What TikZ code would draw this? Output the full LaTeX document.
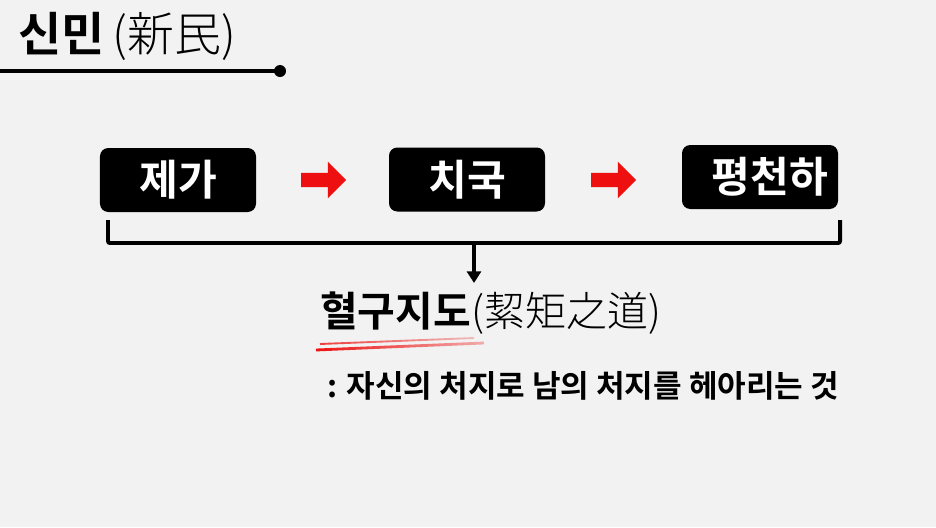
\documentclass[tikz,border=0pt]{standalone}
\usepackage{fontspec}
\usetikzlibrary{shapes.arrows,arrows.meta,fadings}
\newfontfamily\krb{Noto Sans CJK KR Bold}
\newfontfamily\krl{Noto Sans CJK KR Light}
\definecolor{bg}{RGB}{242,242,242}
\definecolor{arrowred}{RGB}{238,16,16}
\tikzfading[name=brushfade, left color=transparent!0, right color=transparent!70]
\tikzset{
  stagebox/.style={fill=black, text=white, rounded corners=0.25cm, minimum width=4.68cm, minimum height=1.92cm, font=\krb\fontsize{36}{40}\selectfont},
  redarrow/.style={single arrow, fill=arrowred, inner sep=0pt, inner ysep=0.21cm, minimum height=1.35cm, single arrow head extend=0.33cm}
}
\begin{document}
\begin{tikzpicture}[x=0.03cm, y=-0.03cm]
        % Background
        \fill[bg] (0,0) rectangle (936,527);
        \useasboundingbox (0,0) rectangle (936,527);

        % Title with rule
        \node[anchor=west, inner sep=0pt] (title) at (18,36) {{\krb\fontsize{40}{44}\selectfont 신민}\hspace{0.25cm}{\krl\fontsize{40}{44}\selectfont (新民)}};
        \coordinate (dot) at (280,71);
        \draw[line width=2.6pt] (0,71) -- (dot);
        \fill (dot) circle (0.18cm);

        % Stages
        \node[stagebox] (jega) at (178,180) {제가};
        \node[stagebox] (chiguk) at (467,179.5) {치국};
        \node[stagebox, inner xsep=0.3cm, text width=4.08cm, align=right] (pyeong) at (760,177) {평천하};
        \node[redarrow] (arr1) at (320,180) {};
        \node[redarrow] (arr2) at (610,180) {};

        % Bracket and down arrow
        \coordinate (bl) at (108,220);
        \coordinate (br) at (840,220);
        \draw[line width=3.4pt, rounded corners=1.7pt] (bl) -- (108,243) -- (840,243) -- (br);
        \node[anchor=west, inner sep=0pt] (hyeolgu) at (320,313) {{\krb\fontsize{35}{40}\selectfont 혈구지도}{\krl\fontsize{35}{40}\selectfont (絜矩之道)}};
        \draw[line width=2.6pt, -{Triangle[width=12pt, length=10pt]}] (474,243) -- (474,283);

        % Red underline
        \draw[arrowred, line width=2.4pt, path fading=brushfade] (316,350) -- (484,343);
        \draw[arrowred, line width=1.6pt, path fading=brushfade, opacity=0.8] (320,344) -- (474,338);

        % Meaning
        \node[anchor=west, inner sep=0pt, font=\krb\fontsize{26.5}{30}\selectfont] (meaning) at (327,386) {: 자신의 처지로 남의 처지를 헤아리는 것};
    \end{tikzpicture}
\end{document}
